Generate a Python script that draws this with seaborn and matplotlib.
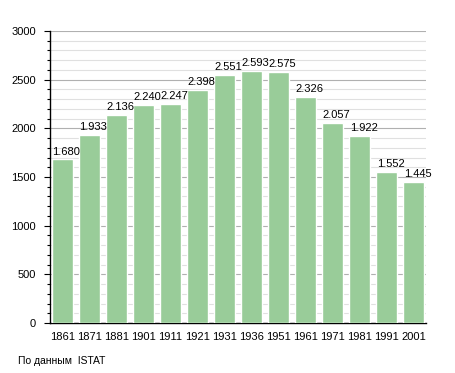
import matplotlib
matplotlib.use("Agg")
import matplotlib.pyplot as plt
import seaborn as sns
import pandas as pd
from matplotlib.ticker import MultipleLocator

years = ["1861", "1871", "1881", "1901", "1911", "1921", "1931",
         "1936", "1951", "1961", "1971", "1981", "1991", "2001"]
population = [1680, 1933, 2136, 2240, 2247, 2398, 2551,
              2593, 2575, 2326, 2057, 1922, 1552, 1445]

df = pd.DataFrame({"year": years, "pop": population})

sns.set_style("white")
plt.rcParams['font.family'] = ['Liberation Sans', 'DejaVu Sans']
plt.rcParams['text.color'] = 'black'

fig = plt.figure(figsize=(4.55, 3.73), dpi=100)
ax = fig.add_axes([0.110, 0.134, 0.826, 0.783])

sns.barplot(data=df, x="year", y="pop", color="#99cc99", saturation=1,
            width=0.77, ax=ax, zorder=3)

ax.set_ylim(0, 3000)
ax.set_xlim(-0.45, len(years) - 0.55)
ax.yaxis.set_major_locator(MultipleLocator(500))
ax.yaxis.set_minor_locator(MultipleLocator(100))
ax.grid(which="major", axis="y", color="#b0b0b0", linewidth=0.8, zorder=0)
ax.grid(which="minor", axis="y", color="#e0e0e0", linewidth=0.8, zorder=0)
ax.set_axisbelow(True)

for s in ["top", "right"]:
    ax.spines[s].set_visible(False)
for s in ["left", "bottom"]:
    ax.spines[s].set_color("black")
    ax.spines[s].set_linewidth(1)

ax.tick_params(axis="y", which="major", left=True, length=4, width=0.8,
               labelsize=8, pad=6, colors="black")
ax.tick_params(axis="y", which="minor", left=True, length=2, width=0.8,
               colors="black")
ax.tick_params(axis="x", bottom=False, labelsize=8, pad=3, colors="black")
ax.set_xlabel("")
ax.set_ylabel("")

for i, v in enumerate(population):
    label = f"{v:,}".replace(",", ".")
    ax.text(i - 0.36, v + 30, label, ha="left", va="bottom", fontsize=8)

fig.text(0.04, 0.02, "По данным  ISTAT", fontsize=7.5, ha="left", va="bottom")

fig.savefig("out.png", dpi=100)
